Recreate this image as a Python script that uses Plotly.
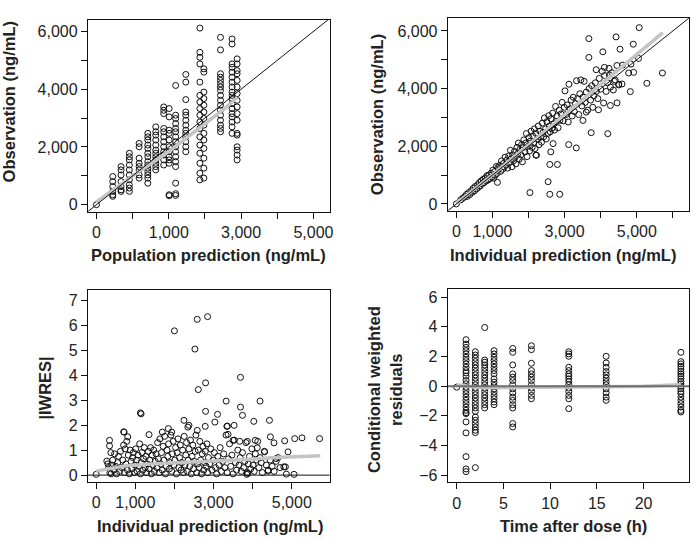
import plotly.graph_objects as go

# ---------------- panel 1: observation vs population prediction ----------------
pop_pred = [0, 450, 680, 910, 1180, 1420, 1640, 1860, 2010, 2190, 2470, 2860, 2970, 3430, 3750, 3890]
pop_obs = [
    [0],
    [975, 800, 630, 460, 345, 290],
    [1320, 1205, 1030, 800, 630, 515, 460],
    [1780, 1660, 1550, 1375, 1205, 1030, 860, 690, 575, 460],
    [2120, 2005, 1610, 1435, 1320, 1205, 1030, 920],
    [2470, 2350, 2240, 2065, 1950, 1780, 1660, 1490, 1375, 1265, 1145, 1030, 920, 745],
    [2695, 2525, 2410, 2240, 2065, 1890, 1780, 1660, 1550, 1435, 1320, 1205],
    [3385, 3270, 3155, 2640, 2525, 2350, 2180, 2005, 1835, 1720, 1550, 1375],
    [3330, 3040, 2580, 2470, 2240, 2005, 1835, 1660, 1550, 1435, 310, 345],
    [4130, 3100, 2985, 2810, 2640, 2525, 2350, 2180, 2005, 1835, 1660, 1490, 1320, 745, 380, 320],
    [4510, 4245, 3640, 3210, 3100, 2925, 2755, 2580, 2470, 2350, 2180, 2005, 1835],
    [6115, 5275, 5105, 4875, 4245, 3785, 3560, 3330, 3100, 2865, 2640, 2350, 2065, 1780, 1435, 1090, 860],
    [4705, 4590, 3900, 3675, 3445, 3210, 2985, 2755, 2470, 2240, 1950, 1610, 1265, 920],
    [5795, 5360, 4535, 4415, 4305, 4190, 4075, 3960, 3785, 3615, 3445, 3270, 3100, 2925, 2755, 2640, 2525],
    [5740, 5565, 4875, 4760, 4590, 4415, 4245, 4075, 3900, 3785, 3675, 3500, 3330, 3155, 3040, 2865, 2695, 2470],
    [5050, 4875, 4645, 4535, 4305, 4075, 3845, 3615, 3385, 3155, 2925, 2470, 2410, 2005, 1890, 1720, 1550],
]
pop_smooth_x = [0, 500, 1000, 1500, 2000, 2500, 3000, 3500, 3900]
pop_smooth_y = [100, 560, 1000, 1420, 1840, 2320, 2800, 3280, 3720]

# ---------------- panel 2: observation vs individual prediction ----------------
ind_pred = [
    0, 120, 180, 230, 280, 300, 340, 370, 410, 440,
    470, 500, 520, 560, 590, 610, 640, 660, 690, 720,
    740, 770, 800, 820, 850, 880, 900, 930, 960, 990,
    1010, 1030, 1060, 1080, 1110, 1130, 1150, 1170, 1200, 1230,
    1250, 1280, 1300, 1330, 1350, 1380, 1400, 1420, 1450, 1470,
    1500, 1520, 1540, 1560, 1590, 1610, 1630, 1650, 1680, 1700,
    1720, 1740, 1760, 1790, 1810, 1830, 1850, 1870, 1900, 1920,
    1940, 1960, 1990, 2010, 2030, 2050, 2070, 2100, 2120, 2140,
    2160, 2180, 2200, 2220, 2250, 2270, 2290, 2310, 2330, 2360,
    2380, 2400, 2420, 2440, 2470, 2490, 2510, 2540, 2560, 2580,
    2600, 2620, 2650, 2670, 2700, 2720, 2750, 2770, 2790, 2820,
    2850, 2870, 2900, 2930, 2960, 2990, 3010, 3040, 3070, 3100,
    3120, 3150, 3180, 3210, 3240, 3270, 3300, 3330, 3360, 3390,
    3420, 3450, 3480, 3510, 3540, 3570, 3600, 3640, 3680, 3720,
    3750, 3780, 3810, 3850, 3880, 3920, 3960, 4000, 4040, 4080,
    4110, 4150, 4190, 4230, 4270, 4310, 4350, 4400, 4450, 4500,
    5067, 3672, 3672, 4425, 4535, 4058, 4902, 5710, 5279, 4820,
    4452, 4774, 4838, 5049, 4103, 3874, 3736, 4195, 3112, 3323,
    2589, 2800, 2543, 2038, 2589, 2864, 1138, 2616, 2680, 2203,
    3938, 4268, 4608, 4911, 4241, 4379, 4590, 4498, 3507, 3599,
]
ind_obs = [
    0, 140, 200, 250, 330, 260, 390, 320, 460, 400,
    540, 450, 600, 520, 660, 580, 740, 620, 800, 700,
    850, 740, 900, 790, 980, 830, 1000, 880, 1060, 930,
    1170, 890, 1120, 1000, 1300, 1060, 1260, 1210, 1330, 1130,
    1490, 1200, 1400, 1280, 1620, 1350, 1520, 1240, 1660, 1430,
    1860, 1560, 1290, 1700, 1500, 1820, 1620, 1390, 1960, 1740,
    2110, 1550, 1880, 1700, 2060, 1460, 1950, 2220, 1800, 2110,
    2440, 1640, 2000, 2300, 1840, 2180, 2520, 1960, 2350, 2120,
    2600, 1920, 2450, 1690, 2250, 2700, 2050, 2520, 2310, 2140,
    2800, 2480, 2330, 2980, 2600, 2250, 2850, 2450, 3060, 2700,
    2500, 2950, 2620, 3150, 2780, 2560, 3380, 2860, 3050, 2640,
    3250, 2900, 3120, 3520, 2880, 3350, 3920, 3100, 3430, 2840,
    4150, 3300, 3600, 3050, 3700, 3200, 3480, 4270, 3650, 3100,
    3820, 4300, 3400, 3700, 4250, 3520, 3880, 3250, 4000, 3600,
    4100, 3350, 3750, 4200, 3900, 3650, 4350, 3980, 4600, 3500,
    4450, 3900, 4200, 4700, 4050, 4550, 3950, 4300, 4800, 4150,
    6113, 5734, 5079, 5791, 5366, 5274, 5538, 4539, 4183, 3895,
    3504, 4539, 4849, 5044, 4734, 4653, 2470, 2436, 2057, 1942,
    1367, 1367, 770, 391, 333, 333, 747, 1804, 2091, 1689,
    3263, 3412, 4814, 4562, 4470, 4251, 4159, 4125, 2895, 3183,
]
ind_smooth_x = [0, 1000, 2000, 3000, 4000, 5000, 5720]
ind_smooth_y = [20, 1010, 2050, 3100, 4150, 5200, 5940]

# ---------------- panel 3: |IWRES| vs individual prediction ----------------
iw_pred = [
    2000, 2584, 2848, 2524, 2610, 2797, 3689, 3323, 4190, 3689,
    3740, 2797, 3102, 1130, 1148, 4029, 4430, 2244, 3034, 3340,
    3527, 2371, 2584, 2788, 1845, 1691, 1930, 1351, 714, 807,
    4454, 4547, 4820, 5075, 5262, 5712, 4905, 4837, 4862, 5058,
    3851, 340, 340, 374, 272, 0, 3354, 3371, 3498, 3668,
    3863, 4066, 4117, 4305, 4601, 4797, 4390, 3880, 703, 2344,
    300, 320, 350, 380, 400, 420, 450, 470, 500, 520,
    550, 570, 600, 620, 650, 680, 700, 720, 740, 760,
    780, 800, 820, 850, 870, 890, 910, 930, 950, 970,
    990, 1010, 1030, 1050, 1070, 1090, 1110, 1130, 1150, 1170,
    1190, 1210, 1230, 1250, 1270, 1290, 1310, 1330, 1350, 1370,
    1390, 1410, 1430, 1450, 1470, 1490, 1510, 1530, 1550, 1570,
    1590, 1610, 1630, 1650, 1670, 1690, 1710, 1730, 1750, 1770,
    1790, 1810, 1830, 1850, 1870, 1890, 1910, 1930, 1950, 1970,
    1990, 2010, 2030, 2050, 2070, 2090, 2110, 2130, 2150, 2170,
    2190, 2210, 2230, 2250, 2270, 2290, 2310, 2330, 2350, 2370,
    2390, 2410, 2430, 2450, 2470, 2490, 2510, 2530, 2550, 2570,
    2590, 2610, 2630, 2650, 2670, 2690, 2710, 2730, 2750, 2770,
    2790, 2810, 2830, 2850, 2870, 2900, 2930, 2960, 2990, 3020,
    3050, 3080, 3110, 3140, 3170, 3200, 3230, 3260, 3290, 3320,
    3350, 3380, 3410, 3440, 3470, 3500, 3530, 3560, 3590, 3620,
    3650, 3680, 3710, 3740, 3770, 3800, 3830, 3860, 3890, 3920,
    3950, 3980, 4010, 4040, 4070, 4100, 4130, 4160, 4190, 4220,
    4250, 4300, 4350, 4400, 4450, 4500, 4550, 4600, 4650, 4700,
]
iw_abs = [
    5.77, 6.23, 6.34, 5.04, 3.42, 3.69, 3.91, 2.96, 2.96, 2.72,
    2.39, 2.55, 2.43, 2.49, 2.45, 2.15, 2.19, 2.19, 2.12, 1.95,
    1.99, 1.99, 1.79, 1.95, 1.86, 1.72, 1.72, 1.62, 1.72, 1.53,
    1.53, 1.29, 1.37, 1.46, 1.49, 1.46, 0.93, 0.33, 0.04, 0.03,
    0.03, 1.39, 1.17, 0.90, 0.56, 0.03, 1.96, 1.63, 1.39, 1.35,
    1.35, 1.39, 1.09, 0.93, 0.66, 0.33, 0.16, 0.07, 1.73, 1.92,
    0.45, 0.30, 0.10, 0.05, 0.40, 0.60, 0.20, 0.85, 0.35, 0.05,
    0.50, 0.75, 0.15, 0.95, 0.30, 0.60, 1.20, 0.10, 1.05, 0.45,
    1.35, 0.20, 0.80, 0.05, 1.00, 0.55, 0.25, 0.70, 0.90, 0.10,
    0.40, 1.05, 0.60, 0.15, 0.80, 0.35, 1.25, 0.05, 0.50, 0.90,
    0.20, 0.65, 1.10, 0.30, 0.75, 0.10, 0.45, 0.95, 0.25, 0.60,
    1.10, 0.05, 0.80, 0.40, 1.00, 0.15, 0.55, 0.85, 0.30, 1.30,
    0.65, 0.10, 1.45, 0.45, 0.90, 0.20, 1.15, 0.60, 1.55, 0.05,
    0.35, 1.00, 0.75, 1.25, 0.25, 0.50, 1.60, 0.15, 0.85, 1.35,
    0.40, 0.60, 1.10, 0.05, 0.90, 1.45, 0.30, 0.70, 1.20, 0.20,
    0.50, 1.00, 0.10, 1.55, 0.40, 0.80, 1.30, 0.15, 0.60, 1.05,
    0.35, 1.40, 0.05, 0.75, 1.20, 0.25, 0.55, 0.95, 1.60, 0.10,
    0.45, 1.00, 0.30, 1.35, 0.60, 0.05, 0.85, 1.15, 0.20, 0.50,
    0.95, 0.35, 1.25, 0.10, 0.70, 0.45, 1.05, 0.20, 0.60, 0.90,
    0.30, 0.05, 0.75, 0.40, 1.10, 0.15, 0.55, 0.85, 0.30, 1.60,
    0.10, 0.65, 1.25, 0.35, 0.80, 0.05, 1.40, 0.50, 0.20, 1.00,
    0.40, 0.70, 0.15, 0.90, 0.30, 0.55, 1.30, 0.10, 0.45, 0.75,
    0.25, 1.05, 0.40, 0.15, 0.85, 0.60, 1.35, 0.30, 0.70, 0.50,
    0.10, 0.95, 0.40, 0.20, 0.60, 0.35, 0.15, 0.55, 0.70, 0.30,
]
iw_smooth_x = [0, 770, 1500, 2300, 3000, 3800, 4600, 5730]
iw_smooth_y = [0.16, 0.37, 0.45, 0.50, 0.55, 0.62, 0.70, 0.77]

# ---------------- panel 4: CWRES vs time after dose ----------------
cw_times = [0, 1, 2, 3, 4, 6, 8, 12, 16, 24]
cw_values = [
    [-0.07],
    [3.13, 2.83, 2.61, 2.39, 2.17, 1.94, 1.72, 1.50, 1.27, 1.05, 0.89, 0.67, 0.38, 0.16, -0.07,
     -0.29, -0.51, -0.74, -0.96, -1.18, -1.41, -1.63, -1.79, -1.85, -2.41, -3.15, -4.75, -5.58, -5.76],
    [2.32, 2.10, 1.88, 1.65, 1.43, 1.21, 0.98, 0.76, 0.54, 0.31, 0.09, -0.13, -0.36, -0.58, -0.80,
     -1.03, -1.25, -1.47, -1.70, -2.08, -2.30, -2.52, -2.75, -2.97, -3.13, -5.49],
    [3.95, 1.76, 1.61, 1.43, 1.21, 0.98, 0.76, 0.54, 0.31, 0.09, -0.13, -0.36, -0.58, -0.80, -1.03,
     -1.25, -1.47],
    [2.39, 2.17, 1.94, 1.72, 1.50, 1.27, 1.05, 0.83, 0.49, 0.27, 0.04, -0.18, -0.40, -0.63, -0.85,
     -1.07, -1.25],
    [2.54, 2.28, 1.43, 0.83, 0.60, 0.38, 0.09, -0.18, -0.45, -0.74, -0.96, -1.25, -1.47, -2.52, -2.75],
    [2.72, 2.46, 1.54, 1.05, 0.83, 0.60, 0.38, 0.09, -0.13, -0.36, -0.63, -0.85],
    [2.32, 2.17, 2.01, 1.27, 1.05, 0.83, 0.67, 0.49, 0.31, 0.09, -0.13, -0.36, -0.63, -0.85, -1.52],
    [2.01, 1.56, 1.27, 0.98, 0.76, 0.54, 0.31, 0.09, -0.18, -0.45, -0.74, -0.96],
    [2.28, 1.65, 1.50, 1.34, 1.16, 0.98, 0.83, 0.67, 0.49, 0.31, 0.16, 0.00, -0.18, -0.36, -0.51,
     -0.74, -0.96, -1.18, -1.41, -1.63, -1.74],
]
cw_smooth_x = [0, 1, 2, 3, 4, 6, 8, 12, 16, 20, 24]
cw_smooth_y = [0.10, 0.00, -0.08, -0.10, -0.10, -0.10, -0.08, -0.06, -0.04, 0.00, 0.10]

# flatten column data
p1_x = [x for x, col in zip(pop_pred, pop_obs) for _ in col]
p1_y = [y for col in pop_obs for y in col]
p4_x = [t for t, col in zip(cw_times, cw_values) for _ in col]
p4_y = [v for col in cw_values for v in col]

FONT = "Liberation Sans, Arial, sans-serif"
INK = "#222222"
SMOOTH = "#c4c4c4"

marker = dict(symbol="circle-open", size=6, color="#111111", line=dict(width=1, color="#111111"))

fig = go.Figure()


def add_panel(n, xs, ys, sx, sy, ref_line):
    xa = "x" if n == 1 else f"x{n}"
    ya = "y" if n == 1 else f"y{n}"
    fig.add_trace(go.Scatter(x=xs, y=ys, mode="markers", marker=marker,
                             xaxis=xa, yaxis=ya, showlegend=False, hoverinfo="skip"))
    fig.add_trace(go.Scatter(x=sx, y=sy, mode="lines", line=dict(color=SMOOTH, width=3.5),
                             xaxis=xa, yaxis=ya, showlegend=False, hoverinfo="skip"))
    if ref_line is not None:
        fig.add_trace(go.Scatter(x=ref_line[0], y=ref_line[1], mode="lines",
                                 line=dict(color=ref_line[2], width=ref_line[3]),
                                 xaxis=xa, yaxis=ya, showlegend=False, hoverinfo="skip"))


add_panel(1, p1_x, p1_y, pop_smooth_x, pop_smooth_y, ([-300, 6600], [-300, 6600], "#111111", 1))
add_panel(2, ind_pred, ind_obs, ind_smooth_x, ind_smooth_y, ([-300, 6600], [-300, 6600], "#111111", 1))
add_panel(3, iw_pred, iw_abs, iw_smooth_x, iw_smooth_y, ([-500, 6500], [0, 0], "#111111", 1))
add_panel(4, p4_x, p4_y, cw_smooth_x, cw_smooth_y, ([-2, 26], [0, 0], "#6e6e6e", 2))

W, H = 695, 539


def axis(domain, rng, tickvals, ticktext, anchor):
    return dict(domain=domain, range=rng, tickvals=tickvals, ticktext=ticktext, anchor=anchor,
                showline=True, mirror=True, linecolor="#111111", linewidth=1,
                ticks="outside", ticklen=6, tickcolor="#111111", tickwidth=1,
                showgrid=False, zeroline=False,
                tickfont=dict(family=FONT, size=16, color=INK))


k6 = [0, 1000, 2000, 3000, 4000, 5000, 6000]
left = [88.3 / W, 331.6 / W]
right = [450.3 / W, 693.3 / W]

fig.update_layout(
    width=W, height=H,
    margin=dict(l=0, r=0, t=0, b=0),
    paper_bgcolor="white", plot_bgcolor="white",
    xaxis=axis(left, [-240, 6450], k6, ["0", "", "1,000", "", "3,000", "", "5,000"], "y"),
    yaxis=axis([1 - 211.8 / H, 1 - 19 / H], [-240, 6400], k6,
               ["0", "", "2,000", "", "4,000", "", "6,000"], "x"),
    xaxis2=axis(right, [-240, 6455], k6, ["0", "1,000", "", "3,000", "", "5,000", ""], "y2"),
    yaxis2=axis([1 - 210.7 / H, 1 - 17.3 / H], [-230, 6440], k6,
                ["0", "", "2,000", "", "4,000", "", "6,000"], "x2"),
    xaxis3=axis(left, [-215, 5970], k6[:6], ["0", "1,000", "", "3,000", "", "5,000"], "y3"),
    yaxis3=axis([1 - 483.3 / H, 1 - 290.7 / H], [-0.26, 7.4], list(range(8)),
                [str(i) for i in range(8)], "x3"),
    xaxis4=axis(right, [-0.96, 24.9], [0, 5, 10, 15, 20], ["0", "5", "10", "15", "20"], "y4"),
    yaxis4=axis([1 - 484 / H, 1 - 290 / H], [-6.48, 6.52], [-6, -4, -2, 0, 2, 4, 6],
                ["\u22126", "\u22124", "\u22122", "0", "2", "4", "6"], "x4"),
)

title_font = dict(family=FONT, size=16.5, color=INK)
titles = [
    ("Population prediction (ng/mL)", 209.7, 255, 0),
    ("Individual prediction (ng/mL)", 566.7, 255, 0),
    ("Individual prediction (ng/mL)", 211, 528, 0),
    ("Time after dose (h)", 577, 528, 0),
    ("Observation (ng/mL)", 9, 101, -90),
    ("Observation (ng/mL)", 380, 114, -90),
    ("|IWRES|", 45, 389, -90),
    ("Conditional weighted<br>residuals", 387.5, 391, -90),
]
for text, px, py, ang in titles:
    fig.add_annotation(text=f"<b>{text}</b>", x=px / W, y=1 - py / H, xref="paper", yref="paper",
                       xanchor="center", yanchor="middle", showarrow=False, textangle=ang,
                       font=title_font)

# the page body has a default 8px margin; drop it so the figure fills the window
fig.write_html("out.html", config={"displayModeBar": False},
               post_script="document.body.style.margin = '0';")
